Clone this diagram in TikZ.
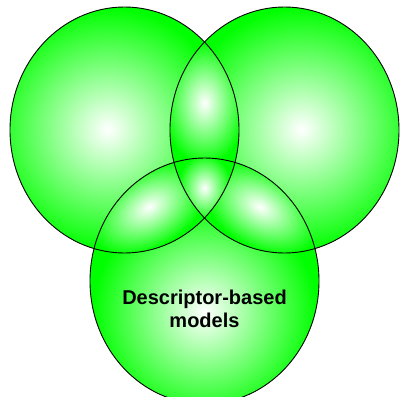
\documentclass[tikz,border=0pt]{standalone}
\usepackage{fontspec}
\setmainfont{Liberation Sans}
\definecolor{vgreen}{RGB}{0,255,0}
\pgfdeclareradialshading{venn}{\pgfpoint{0bp}{0bp}}{color(0bp)=(white); color(25bp)=(vgreen); color(50bp)=(vgreen)}
\tikzset{
  outline/.style={draw=black, line width=0.9pt},
  vennshade/.style={shading=venn},
  labeltext/.style={font=\bfseries\fontsize{20}{23}\selectfont, align=center, text=black}
}
\begin{document}
\begin{tikzpicture}[x=1pt,y=-1pt]
\useasboundingbox (0,0) rectangle (400,397);
\coordinate (A) at (124.5,130);
\coordinate (B) at (284.5,130);
\coordinate (C) at (204.5,281);
% single circles
\begin{scope}
  \clip (A) ellipse (114.5pt and 123pt);
  \fill[vgreen] (A) ellipse (114.5pt and 123pt);
  \shade[vennshade] (107.7,129.3) circle (122pt);
\end{scope}
\begin{scope}
  \clip (B) ellipse (114.5pt and 123pt);
  \fill[vgreen] (B) ellipse (114.5pt and 123pt);
  \shade[vennshade] (301.3,129.3) circle (122pt);
\end{scope}
\begin{scope}
  \clip (C) ellipse (114.5pt and 123pt);
  \fill[vgreen] (C) ellipse (114.5pt and 123pt);
  \shade[vennshade] (204.5,312) circle (112pt);
\end{scope}
% pairwise lenses
\begin{scope}
  \clip (A) ellipse (114.5pt and 123pt);
  \clip (B) ellipse (114.5pt and 123pt);
  \fill[vgreen] (A) ellipse (114.5pt and 123pt);
  \shade[vennshade] (204.5,103) ellipse (42pt and 62pt);
\end{scope}
\begin{scope}
  \clip (A) ellipse (114.5pt and 123pt);
  \clip (C) ellipse (114.5pt and 123pt);
  \fill[vgreen] (A) ellipse (114.5pt and 123pt);
  \shade[vennshade, transform canvas={rotate around={31:(149,207)}}] (149,207) ellipse (64pt and 40pt);
\end{scope}
\begin{scope}
  \clip (B) ellipse (114.5pt and 123pt);
  \clip (C) ellipse (114.5pt and 123pt);
  \fill[vgreen] (B) ellipse (114.5pt and 123pt);
  \shade[vennshade, transform canvas={rotate around={-31:(260,207)}}] (260,207) ellipse (64pt and 40pt);
\end{scope}
% triple region
\begin{scope}
  \clip (A) ellipse (114.5pt and 123pt);
  \clip (B) ellipse (114.5pt and 123pt);
  \clip (C) ellipse (114.5pt and 123pt);
  \fill[vgreen] (A) ellipse (114.5pt and 123pt);
  \shade[vennshade] (204.5,188) ellipse (27pt and 34pt);
\end{scope}
% outlines
\draw[outline] (A) ellipse (114.5pt and 123pt);
\draw[outline] (B) ellipse (114.5pt and 123pt);
\draw[outline] (C) ellipse (114.5pt and 123pt);
\node[labeltext] (label) at (204.5,308.5) {Descriptor-based\\models};
\end{tikzpicture}
\end{document}
